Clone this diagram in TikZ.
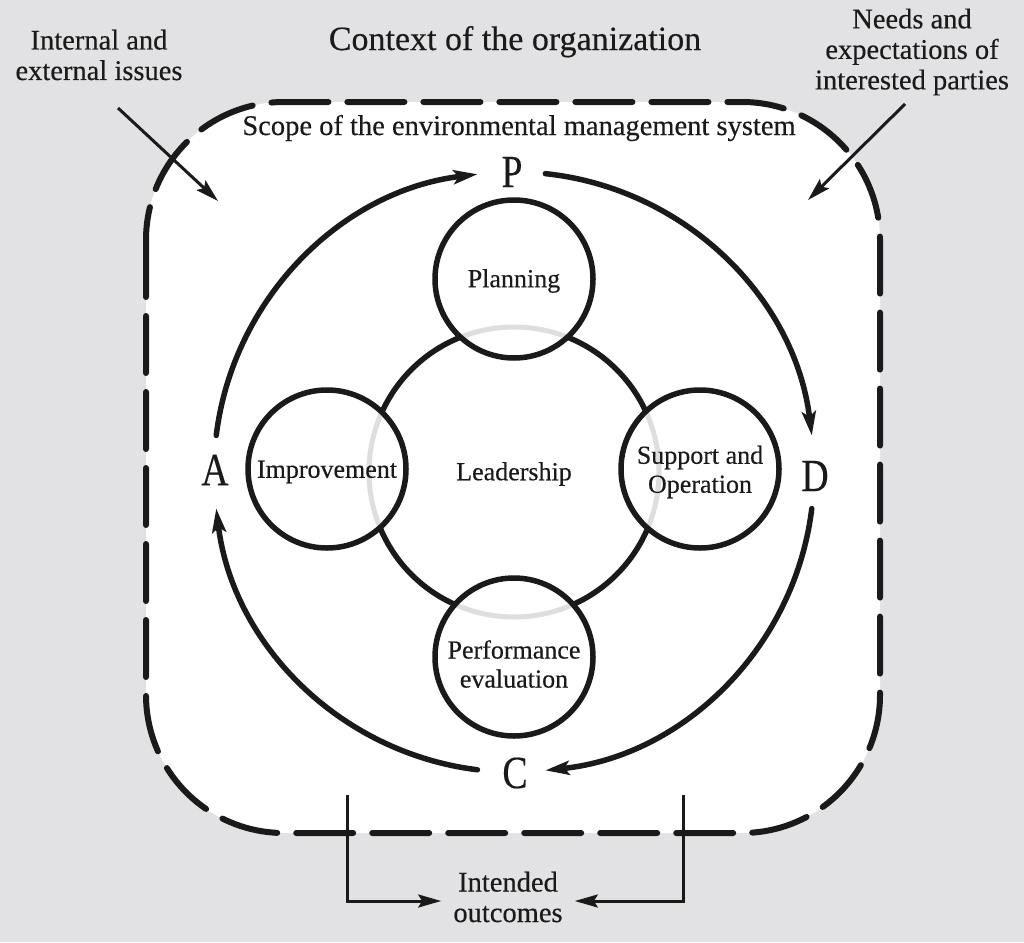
\documentclass[tikz,border=0pt]{standalone}
\usepackage{fontspec}
\setmainfont{Liberation Serif}[FakeBold=0.35]
\usetikzlibrary{arrows.meta}
\definecolor{bg}{HTML}{E2E2E4}
\definecolor{ink}{HTML}{1A1A1A}
\definecolor{ring}{HTML}{DEDEDE}
\begin{document}
\begin{tikzpicture}[x=1pt,y=-1pt,
  heavy/.style={line width=5.5pt, draw=ink},
  sat/.style={circle, heavy, minimum size=158pt, inner sep=0pt},
  sattext/.style={align=center, text=ink, inner sep=0pt, font=\fontsize{26}{29}\selectfont},
  lbl/.style={align=center, font=\fontsize{28.5}{30.5}\selectfont, text=ink, inner sep=0pt},
  cyc/.style={line width=5.5pt, draw=ink, line cap=round, -{Stealth[length=24pt,width=14pt,inset=5pt]}},
  thinarrow/.style={line width=3pt, draw=ink, -{Stealth[length=23pt,width=13pt,inset=4pt]}},
  letter/.style={font=\fontsize{46}{46}\selectfont, text=ink, inner sep=0pt}
]
\useasboundingbox (0,0) rectangle (1024,942);
\fill[bg] (0,0) rectangle (1024,942);
% scope boundary
\draw[line width=6pt, draw=ink, line cap=round, fill=white, dash pattern=on 57pt off 19pt, rounded corners=138pt] (146,102) rectangle (880,833);

% titles and labels
\node[lbl, font=\fontsize{34}{36}\selectfont, anchor=base] (ctx) at (515,50) {Context of the organization};
\node[lbl, anchor=base] (scope) at (519,135) {Scope of the environmental management system};
\node[lbl] (internal) at (99,55) {Internal and\\external issues};
\node[lbl] (needs) at (912,52) {Needs and\\expectations of\\interested parties};
\node[lbl] (outc) at (508,897) {Intended\\outcomes};

% centres
\coordinate (ctr) at (514,472);
\coordinate (cP) at (514,279);
\coordinate (cI) at (327,469);
\coordinate (cS) at (700,469);
\coordinate (cE) at (514,657);

% central circle
\node[circle, heavy, minimum size=290pt, inner sep=0pt, label={[sattext, yshift=-2pt]center:Leadership}] (lead) at (ctr) {};
\foreach \c in {cP,cI,cS,cE}{
  \fill[white] (\c) circle[radius=79];
  \begin{scope}
    \clip (\c) circle[radius=76];
    \draw[ring, line width=5pt] (ctr) circle[radius=145];
  \end{scope}
}
\node[sat, label={[sattext, yshift=-2pt]center:Planning}] (plan) at (cP) {};
\node[sat, label={[sattext, yshift=-3pt]center:Improvement}] (impr) at (cI) {};
\node[sat, label={[sattext, yshift=-3pt]center:{Support and\\Operation}}] (supp) at (cS) {};
\node[sat, label={[sattext, yshift=-7pt]center:{Performance\\evaluation}}] (perf) at (cE) {};

% PDCA letters
\node[letter] (P) at (512,172) {\scalebox{0.82}[1]{P}};
\node[letter] (D) at (815,476) {\scalebox{0.82}[1]{D}};
\node[letter] (C) at (515,773) {\scalebox{0.82}[1]{C}};
\node[letter] (A) at (215,470) {\scalebox{0.82}[1]{A}};

% PDCA cycle arcs
\draw[cyc] ([shift={(-173:300)}]ctr) arc[start angle=-173, end angle=-97, radius=300];
\draw[cyc] ([shift={(-84:300)}]ctr) arc[start angle=-84, end angle=-7, radius=300];
\draw[cyc] ([shift={(7:300)}]ctr) arc[start angle=7, end angle=84, radius=300];
\draw[cyc] ([shift={(97:300)}]ctr) arc[start angle=97, end angle=173, radius=300];

% input arrows
\coordinate (i1) at (118,108);
\coordinate (i2) at (218,201);
\coordinate (n1) at (905,104);
\coordinate (n2) at (808,200);
\draw[thinarrow] (i1) -- (i2);
\draw[thinarrow] (n1) -- (n2);

% outcome arrows
\coordinate (o1) at (347,795);
\coordinate (o2) at (683,795);
\draw[thinarrow] (o1) |- ([xshift=-12pt,yshift=-4pt]outc.west);
\draw[thinarrow] (o2) |- ([xshift=12pt,yshift=-4pt]outc.east);
\end{tikzpicture}
\end{document}
